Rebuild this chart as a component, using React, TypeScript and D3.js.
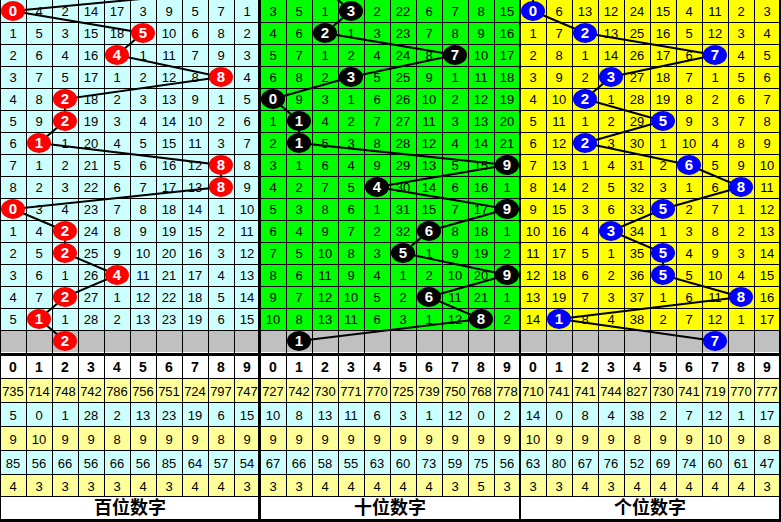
import React from 'react';
import * as d3 from 'd3';

// ---------- data ----------
const digits = [0, 1, 2, 3, 4, 5, 6, 7, 8, 9];
const panelTitles = ['百位数字', '十位数字', '个位数字'];

const hundredsDraws = [0, 5, 4, 8, 2, 2, 1, 8, 8, 0, 2, 2, 4, 2, 1];
const hundredsFirstGaps = [0, 4, 2, 14, 17, 3, 9, 5, 7, 1];
const hundredsPrev = 9;
const hundredsNext = 2;

const tensDraws = [3, 2, 7, 3, 0, 1, 1, 9, 4, 9, 6, 5, 9, 6, 8];
const tensFirstGaps = [3, 5, 1, 0, 2, 22, 6, 7, 8, 15];
const tensPrev = 2;
const tensNext = 1;

const unitsDraws = [0, 2, 7, 3, 2, 5, 2, 6, 8, 5, 3, 5, 5, 8, 1];
const unitsFirstGaps = [0, 6, 13, 12, 24, 15, 4, 11, 2, 3];
const unitsPrev = 0;
const unitsNext = 7;

const hundredsStat1 = [735, 714, 748, 742, 786, 756, 751, 724, 797, 747];
const hundredsStat2 = [5, 0, 1, 28, 2, 13, 23, 19, 6, 15];
const hundredsStat3 = [9, 10, 9, 9, 8, 9, 9, 9, 8, 9];
const hundredsStat4 = [85, 56, 66, 56, 66, 56, 85, 64, 57, 54];
const hundredsStat5 = [4, 3, 3, 3, 3, 4, 3, 4, 4, 3];

const tensStat1 = [727, 742, 730, 771, 770, 725, 739, 750, 768, 778];
const tensStat2 = [10, 8, 13, 11, 6, 3, 1, 12, 0, 2];
const tensStat3 = [9, 9, 9, 9, 9, 9, 9, 9, 9, 9];
const tensStat4 = [67, 66, 58, 55, 63, 60, 73, 59, 75, 56];
const tensStat5 = [3, 3, 4, 4, 4, 4, 4, 3, 5, 3];

const unitsStat1 = [710, 741, 741, 744, 827, 730, 741, 719, 770, 777];
const unitsStat2 = [14, 0, 8, 4, 38, 2, 7, 12, 1, 17];
const unitsStat3 = [10, 9, 9, 9, 8, 9, 9, 10, 9, 8];
const unitsStat4 = [63, 80, 67, 76, 52, 69, 74, 60, 61, 47];
const unitsStat5 = [3, 3, 4, 3, 4, 4, 4, 4, 4, 3];

// ---------- layout ----------
const W = 781;
const H = 522;
const PANEL_W = 260;
const ROW_H = 22;
const N_ROWS = hundredsDraws.length + 1; // + gray prediction row
const TOP_H = ROW_H * N_ROWS; // 352
const HEADER_Y = 356;
const HEADER_H = 22;
const STAT_EDGES = [378, 402, 426, 450, 474, 496];
const TITLE_Y = 496;
const TITLE_H = 23;

const panels = [
  {
    bg: '#CCFFFF', ball: '#FF0000', draws: hundredsDraws, first: hundredsFirstGaps, prev: hundredsPrev, next: hundredsNext,
    stats: [hundredsStat1, hundredsStat2, hundredsStat3, hundredsStat4, hundredsStat5],
  },
  {
    bg: '#00FF00', ball: '#000000', draws: tensDraws, first: tensFirstGaps, prev: tensPrev, next: tensNext,
    stats: [tensStat1, tensStat2, tensStat3, tensStat4, tensStat5],
  },
  {
    bg: '#FFFF00', ball: '#0000FF', draws: unitsDraws, first: unitsFirstGaps, prev: unitsPrev, next: unitsNext,
    stats: [unitsStat1, unitsStat2, unitsStat3, unitsStat4, unitsStat5],
  },
];

const statBg = ['#FFFF99', '#CCFFFF', '#FFFF99', '#CCFFFF', '#FFFF99'];
const FONT = '"Liberation Sans", Arial, sans-serif';

function gapRows(first: number[], draws: number[]): number[][] {
  const rows: number[][] = [first.slice()];
  for (let r = 1; r < draws.length; r++) {
    const prev = rows[r - 1];
    rows.push(prev.map((g, c) => (c === draws[r] ? 0 : g + 1)));
  }
  return rows;
}

const yRow = d3.scaleBand<number>().domain(d3.range(N_ROWS)).range([0, TOP_H]);
const yRowCenter = (r: number) => r * ROW_H + ROW_H / 2;

function Panel({ p, idx }: { p: typeof panels[number]; idx: number }) {
  const x0 = idx * PANEL_W;
  const x = d3.scaleBand<number>().domain(digits).range([x0, x0 + PANEL_W]);
  const cx = (d: number) => (x(d) as number) + x.bandwidth() / 2;
  const gaps = gapRows(p.first, p.draws);
  const seq = [p.prev, ...p.draws, p.next];
  const pts: [number, number][] = seq.map((d, i) => [cx(d), yRowCenter(i - 1)]);
  const line = d3.line();
  const ballRows = [...p.draws, p.next];

  return (
    <g>
      {/* backgrounds */}
      <rect x={x0} y={0} width={PANEL_W} height={TOP_H - ROW_H} fill={p.bg} />
      <rect x={x0} y={TOP_H - ROW_H} width={PANEL_W} height={ROW_H} fill="#C0C0C0" />
      <rect x={x0} y={HEADER_Y} width={PANEL_W} height={HEADER_H} fill="#FFFFFF" />
      {statBg.map((c, i) => (
        <rect key={i} x={x0} y={STAT_EDGES[i]} width={PANEL_W} height={STAT_EDGES[i + 1] - STAT_EDGES[i]} fill={c} />
      ))}
      <rect x={x0} y={TITLE_Y} width={PANEL_W} height={TITLE_H} fill="#FFFFFF" />

      {/* grid lines */}
      <g stroke="#000" strokeWidth={1} shapeRendering="crispEdges">
        {digits.slice(1).map((d) => (
          <line key={'v' + d} x1={(x(d) as number) + 0.5} x2={(x(d) as number) + 0.5} y1={0} y2={TITLE_Y} />
        ))}
        {d3.range(1, N_ROWS).map((r) => (
          <line key={'h' + r} x1={x0} x2={x0 + PANEL_W} y1={(yRow(r) as number) + 0.5} y2={(yRow(r) as number) + 0.5} />
        ))}
        {STAT_EDGES.map((y, i) => (
          <line key={'s' + i} x1={x0} x2={x0 + PANEL_W} y1={y + 0.5} y2={y + 0.5} />
        ))}
      </g>

      {/* gap numbers */}
      <g fontFamily={FONT} fontSize={13} textAnchor="middle" fill="#000">
        {gaps.map((row, r) =>
          row.map((g, c) =>
            c === p.draws[r] ? null : (
              <text key={r + '-' + c} x={cx(c)} y={yRowCenter(r)} dy="0.36em">{g}</text>
            )
          )
        )}
      </g>

      {/* connecting line */}
      <path d={line(pts) || ''} fill="none" stroke="#000" strokeWidth={2} />

      {/* balls */}
      {ballRows.map((d, r) => (
        <g key={'b' + r}>
          <ellipse cx={cx(d)} cy={yRowCenter(r)} rx={12} ry={10} fill={p.ball} />
          <text x={cx(d)} y={yRowCenter(r)} dy="0.36em" textAnchor="middle" fill="#FFFFFF"
            fontFamily={FONT} fontWeight="bold" fontSize={15}>{d}</text>
        </g>
      ))}

      {/* header */}
      <g fontFamily={FONT} fontWeight="900" fontSize={14} textAnchor="middle">
        {digits.map((d) => (
          <text key={'hd' + d} x={cx(d)} y={HEADER_Y + HEADER_H / 2} dy="0.36em">{d}</text>
        ))}
      </g>

      {/* stats */}
      <g fontFamily={FONT} fontSize={13} textAnchor="middle">
        {p.stats.map((row, i) =>
          row.map((v, c) => (
            <text key={'st' + i + '-' + c} x={cx(c)} y={(STAT_EDGES[i] + STAT_EDGES[i + 1]) / 2 + 1} dy="0.36em">{v}</text>
          ))
        )}
      </g>

      {/* title */}
      <text x={x0 + PANEL_W / 2} y={TITLE_Y + TITLE_H / 2} dy="0.36em" textAnchor="middle"
        fontFamily='"Noto Sans CJK SC", sans-serif' fontWeight="bold" fontSize={18}>{panelTitles[idx]}</text>
    </g>
  );
}

export default function App() {
  return (
    <svg width={W} height={H} viewBox={`0 0 ${W} ${H}`}
      style={{ position: 'absolute', left: 0, top: 0, display: 'block', background: '#fff' }}>
      <defs>
        <clipPath id="clipAll"><rect x={0} y={0} width={W} height={H} /></clipPath>
      </defs>
      <g clipPath="url(#clipAll)">
        {panels.map((p, i) => <Panel key={i} p={p} idx={i} />)}
      </g>
      {/* thick separators and borders */}
      <g fill="#000" shapeRendering="crispEdges">
        <rect x={0} y={353} width={W} height={3} />
        <rect x={258} y={0} width={3} height={H} />
        <rect x={519} y={0} width={2} height={H} />
        <rect x={0} y={0} width={1} height={H} />
        <rect x={779} y={0} width={2} height={H} />
        <rect x={0} y={519} width={W} height={3} />
      </g>
    </svg>
  );
}
